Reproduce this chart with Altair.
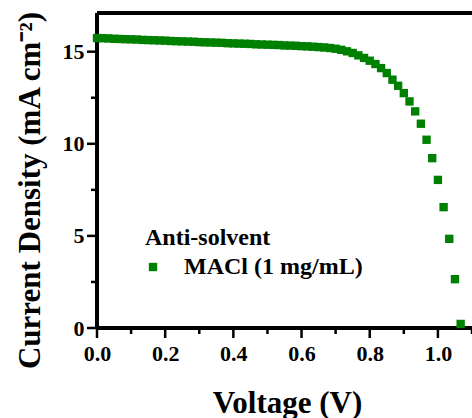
import altair as alt
import pandas as pd

voltage = [0.0, 0.0167, 0.0333, 0.05, 0.0667, 0.0833, 0.1, 0.1167, 0.1333, 0.15,
           0.1667, 0.1833, 0.2, 0.2167, 0.2333, 0.25, 0.2667, 0.2833, 0.3, 0.3167,
           0.3333, 0.35, 0.3667, 0.3833, 0.4, 0.4167, 0.4333, 0.45, 0.4667, 0.4833,
           0.5, 0.5167, 0.5333, 0.55, 0.5667, 0.5833, 0.6, 0.6167, 0.6333, 0.65,
           0.6667, 0.6833, 0.7, 0.7167, 0.7333, 0.75, 0.7667, 0.7833, 0.8, 0.8167,
           0.8333, 0.85, 0.8667, 0.8833, 0.9, 0.9167, 0.9333, 0.95, 0.9667, 0.9833,
           1.0, 1.0167, 1.0333, 1.05, 1.0667]
current = [15.74, 15.73, 15.72, 15.70, 15.69, 15.68, 15.67, 15.66, 15.64, 15.63,
           15.62, 15.61, 15.60, 15.58, 15.57, 15.56, 15.55, 15.54, 15.52, 15.51,
           15.50, 15.49, 15.48, 15.46, 15.45, 15.44, 15.43, 15.42, 15.40, 15.39,
           15.38, 15.37, 15.36, 15.34, 15.33, 15.32, 15.30, 15.29, 15.27, 15.25,
           15.23, 15.20, 15.16, 15.10, 15.02, 14.93, 14.80, 14.66, 14.51, 14.33,
           14.11, 13.84, 13.48, 13.15, 12.75, 12.30, 11.76, 11.09, 10.22, 9.22,
           8.04, 6.56, 4.84, 2.65, 0.22]
series_name = "MACl (1 mg/mL)"
legend_title = "Anti-solvent"
x_major = [0.0, 0.2, 0.4, 0.6, 0.8, 1.0]
x_minor = [0.1, 0.3, 0.5, 0.7, 0.9, 1.1]
y_major = [0, 5, 10, 15]
y_minor = [2.5, 7.5, 12.5]

df = pd.DataFrame({"V": voltage, "J": current, "s": [series_name] * len(voltage)})
xmajor_df = pd.DataFrame({"V": x_major})
xminor_df = pd.DataFrame({"V": x_minor})
ymajor_df = pd.DataFrame({"J": y_major})
yminor_df = pd.DataFrame({"J": y_minor})

FONT = "Liberation Serif"
W, H = 375, 315
xscale = alt.Scale(domain=[0, 1.1], nice=False, zero=False)
yscale = alt.Scale(domain=[0, 17.1], nice=False, zero=False)

points = alt.Chart(df).mark_point(shape="square", filled=True, size=70, opacity=1).encode(
    x=alt.X("V:Q", scale=xscale,
            axis=alt.Axis(
                values=x_major, format=".1f",
                title="Voltage (V)",
                labelPadding=15, labelFlush=False,
                titleX=190, titleY=84, titleBaseline="alphabetic",
                titleAlign="center",
            )),
    y=alt.Y("J:Q", scale=yscale,
            axis=alt.Axis(
                values=y_major, format="d",
                title="Current Density (mA cm⁻²)",
                labelPadding=13, labelFlush=False,
                titleX=-58, titleY=177, titleBaseline="alphabetic", titleAngle=-90,
                titleAlign="center",
            )),
    color=alt.Color("s:N", scale=alt.Scale(range=["#008000"]),
                    legend=alt.Legend(
                        title=legend_title, orient="none", legendX=48, legendY=213,
                        symbolType="square", symbolSize=70, symbolStrokeWidth=0,
                        symbolOffset=-4, labelOffset=19, padding=0, titlePadding=5,
                        titleFont=FONT, titleFontSize=24, titleFontWeight="bold",
                        titleColor="black", labelLimit=400, titleLimit=400,
                        labelFont=FONT, labelFontSize=24, labelFontWeight="bold",
                        labelColor="black",
                    )),
)

x_major_ticks = alt.Chart(xmajor_df).mark_rule(color="black", strokeWidth=2.5).encode(
    x=alt.X("V:Q", scale=xscale), y=alt.value(H), y2=alt.value(H + 10)
)
x_minor_ticks = alt.Chart(xminor_df).mark_rule(color="black", strokeWidth=2.5).encode(
    x=alt.X("V:Q", scale=xscale), y=alt.value(H), y2=alt.value(H + 6)
)
y_major_ticks = alt.Chart(ymajor_df).mark_rule(color="black", strokeWidth=2.5).encode(
    y=alt.Y("J:Q", scale=yscale), x=alt.value(0), x2=alt.value(-10)
)
y_minor_ticks = alt.Chart(yminor_df).mark_rule(color="black", strokeWidth=2.5).encode(
    y=alt.Y("J:Q", scale=yscale), x=alt.value(0), x2=alt.value(-6)
)

top_spine = alt.Chart(df).mark_rule(color="black", strokeWidth=3).encode(
    x=alt.value(0), x2=alt.value(W), y=alt.value(0)
)
bottom_spine = alt.Chart(df).mark_rule(color="black", strokeWidth=3).encode(
    x=alt.value(0), x2=alt.value(W), y=alt.value(H)
)
left_spine = alt.Chart(df).mark_rule(color="black", strokeWidth=3).encode(
    x=alt.value(0), y=alt.value(0), y2=alt.value(H)
)

chart = alt.layer(top_spine, bottom_spine, left_spine,
                  x_major_ticks, x_minor_ticks, y_major_ticks, y_minor_ticks,
                  points).properties(
    width=W, height=H,
    background="white",
    padding={"left": 97, "top": 13, "right": 0, "bottom": 90},
    autosize=alt.AutoSizeParams(type="none"),
).configure_view(stroke=None).configure_axis(
    domain=False, ticks=False,
    labelFont=FONT, labelFontSize=22, labelFontWeight="bold", labelColor="black",
    titleFont=FONT, titleFontSize=31, titleFontWeight="bold", titleColor="black",
    grid=False,
)

chart.save("out.html", embed_options={"renderer": "svg", "actions": False})
